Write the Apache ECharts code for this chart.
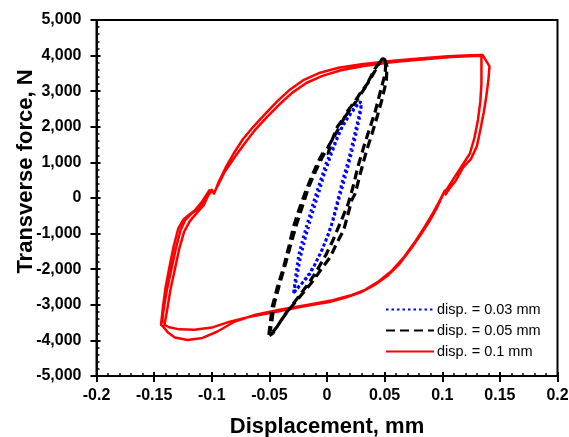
<!DOCTYPE html>
<html>
<head>
<meta charset="utf-8">
<script src="https://cdn.jsdelivr.net/npm/echarts@6/dist/echarts.min.js"></script>
<style>html,body{margin:0;padding:0;background:#fff}#c{width:569px;height:437px}</style>
</head>
<body>
<div id="c"></div>
<script>
const seriesNames = ['disp. = 0.03 mm', 'disp. = 0.05 mm', 'disp. = 0.1 mm'];
const xTickLabels = ['-0.2','-0.15','-0.1','-0.05','0','0.05','0.1','0.15','0.2'];
const yTickLabels = ['-5,000','-4,000','-3,000','-2,000','-1,000','0','1,000','2,000','3,000','4,000','5,000'];

const blueCycle1 = [[-0.029,-2680],[-0.026,-2200],[-0.023,-1650],[-0.019,-1150],[-0.0145,-620],[-0.0105,-200],[-0.0073,130],[-0.003,600],[0.0029,1160],[0.008,1600],[0.013,2000],[0.019,2300],[0.025,2550],[0.029,2710],[0.0295,2600],[0.0275,2280],[0.023,1650],[0.0187,1070],[0.014,550],[0.0101,40],[0.0043,-710],[0.000,-1100],[-0.0043,-1460],[-0.0095,-1800],[-0.0145,-2115],[-0.0195,-2320],[-0.0246,-2490],[-0.029,-2680]];
const blueCycle2 = [[-0.029,-2680],[-0.027,-2150],[-0.0245,-1600],[-0.0205,-1100],[-0.016,-600],[-0.0115,-100],[-0.006,450],[-0.001,950],[0.005,1400],[0.010,1800],[0.016,2150],[0.022,2450],[0.028,2700],[0.030,2650],[0.0285,2300],[0.0245,1700],[0.020,1100],[0.0155,550],[0.011,50],[0.006,-550],[0.001,-1050],[-0.005,-1500],[-0.011,-1900],[-0.017,-2200],[-0.023,-2450],[-0.0285,-2650]];

const blackCycle1 = [[-0.0505,-3850],[-0.049,-3450],[-0.0475,-3050],[-0.043,-2500],[-0.0375,-1930],[-0.033,-1350],[-0.029,-800],[-0.024,-300],[-0.0195,100],[-0.014,550],[-0.008,1000],[-0.003,1300],[0.001,1250],[0.004,1600],[0.009,2000],[0.016,2300],[0.026,2750],[0.034,3150],[0.041,3600],[0.047,3880],[0.050,3900],[0.052,3700],[0.0515,3300],[0.048,2800],[0.0435,2280],[0.039,1800],[0.0345,1350],[0.029,700],[0.0245,130],[0.0215,-60],[0.0145,-900],[0.008,-1300],[0.003,-1650],[-0.005,-2000],[-0.0115,-2300],[-0.019,-2600],[-0.026,-2865],[-0.032,-3100],[-0.0375,-3330],[-0.043,-3600],[-0.047,-3760],[-0.050,-3850]];
const blackCycle2 = [[-0.0505,-3850],[-0.048,-3500],[-0.046,-3000],[-0.041,-2400],[-0.036,-1850],[-0.031,-1250],[-0.026,-700],[-0.021,-200],[-0.016,300],[-0.010,750],[-0.004,1150],[0.003,1550],[0.011,2000],[0.018,2450],[0.024,2700],[0.029,2950],[0.036,3250],[0.043,3650],[0.048,3920],[0.051,3850],[0.0505,3500],[0.046,2950],[0.042,2450],[0.037,1950],[0.032,1450],[0.027,900],[0.0225,300],[0.018,-200],[0.0115,-700],[0.005,-1200],[-0.001,-1600],[-0.009,-2050],[-0.016,-2400],[-0.023,-2700],[-0.030,-3000],[-0.036,-3250],[-0.042,-3550],[-0.047,-3800],[-0.050,-3870]];

const redCycle1 = [[-0.143,-3520],[-0.142,-3200],[-0.139,-2600],[-0.135,-2000],[-0.131,-1400],[-0.127,-900],[-0.123,-620],[-0.118,-450],[-0.112,-300],[-0.106,-60],[-0.102,180],[-0.100,230],[-0.098,120],[-0.094,450],[-0.088,850],[-0.081,1250],[-0.073,1650],[-0.064,2000],[-0.054,2350],[-0.043,2720],[-0.032,3050],[-0.020,3320],[-0.006,3520],[0.010,3660],[0.030,3760],[0.055,3850],[0.080,3920],[0.105,3980],[0.125,4010],[0.135,4020],[0.141,3700],[0.140,3300],[0.138,2800],[0.136,2400],[0.133,1900],[0.130,1450],[0.125,1100],[0.118,850],[0.112,500],[0.106,250],[0.103,100],[0.102,200],[0.099,-20],[0.095,-300],[0.089,-650],[0.082,-1000],[0.073,-1420],[0.063,-1850],[0.052,-2200],[0.041,-2450],[0.030,-2640],[0.017,-2790],[0.002,-2920],[-0.020,-3040],[-0.045,-3200],[-0.066,-3330],[-0.085,-3480],[-0.100,-3640],[-0.115,-3700],[-0.128,-3690],[-0.137,-3630],[-0.141,-3560]];
const redCycle2 = [[-0.140,-3600],[-0.139,-3200],[-0.136,-2600],[-0.132,-2000],[-0.128,-1400],[-0.124,-950],[-0.119,-650],[-0.113,-420],[-0.107,-200],[-0.103,80],[-0.100,200],[-0.098,150],[-0.095,330],[-0.089,720],[-0.080,1150],[-0.071,1550],[-0.062,1930],[-0.052,2280],[-0.041,2640],[-0.030,2960],[-0.018,3230],[-0.004,3430],[0.012,3590],[0.032,3710],[0.056,3810],[0.082,3890],[0.108,3960],[0.128,3990],[0.134,3990],[0.134,3700],[0.134,3200],[0.133,2700],[0.131,2200],[0.128,1700],[0.124,1250],[0.117,900],[0.110,550],[0.104,250],[0.101,130],[0.097,-120],[0.092,-420],[0.085,-800],[0.077,-1200],[0.067,-1650],[0.056,-2050],[0.045,-2340],[0.033,-2580],[0.020,-2740],[0.005,-2870],[-0.015,-2990],[-0.040,-3130],[-0.062,-3280],[-0.080,-3470],[-0.095,-3750],[-0.108,-3930],[-0.121,-3990],[-0.132,-3920],[-0.138,-3780],[-0.142,-3620],[-0.144,-3560]];
const redCycle3 = [[-0.144,-3560],[-0.1425,-3100],[-0.140,-2500],[-0.1365,-1900],[-0.133,-1350],[-0.129,-850],[-0.1245,-600],[-0.120,-480],[-0.115,-360],[-0.109,-130],[-0.104,120],[-0.1015,240]];

const FONT = '"Liberation Sans", Arial, sans-serif';

const chart = echarts.init(document.getElementById('c'), null, {renderer: 'canvas'});

const baseX = {type: 'value', min: -0.2, max: 0.2, interval: 0.05, position: 'bottom', splitLine: {show: false}};
const baseY = {type: 'value', min: -5000, max: 5000, interval: 1000, position: 'left', splitLine: {show: false}};

chart.setOption({
  animation: false,
  backgroundColor: '#fff',
  grid: {left: 96.5, right: 11.5, top: 20, bottom: 61, outerBoundsMode: 'none', containLabel: false,
         show: true, borderColor: '#000', borderWidth: 2, backgroundColor: 'transparent'},
  legend: {
    data: seriesNames,
    orient: 'vertical',
    left: 385, top: 302,
    itemWidth: 48, itemHeight: 14, itemGap: 6,
    itemStyle: {opacity: 0},
    textStyle: {fontFamily: FONT, fontSize: 14.5, color: '#000', padding: [0,0,0,-2]},
    padding: 0
  },
  xAxis: [
    Object.assign({}, baseX, {
      name: 'Displacement, mm', nameLocation: 'middle', nameGap: 40, nameMoveOverlap: false,
      nameTextStyle: {fontFamily: FONT, fontWeight: 'bold', fontSize: 22, color: '#000'},
      axisLine: {show: true, onZero: false, lineStyle: {color: '#000', width: 2}},
      axisTick: {show: true, inside: false, length: 6, lineStyle: {color: '#000', width: 2}},
      axisLabel: {margin: 12, fontFamily: FONT, fontWeight: 'bold', fontSize: 16, color: '#000',
        formatter: (v, i) => xTickLabels[i]}
    }),
    Object.assign({}, baseX, {
      axisLine: {show: false, onZero: false},
      axisLabel: {show: false},
      axisTick: {show: true, inside: true, length: 4, lineStyle: {color: '#000', width: 2}},
      minorTick: {show: true, splitNumber: 5, length: 3, lineStyle: {color: '#000', width: 1.5}}
    })
  ],
  yAxis: [
    Object.assign({}, baseY, {
      name: 'Transverse force, N', nameLocation: 'middle', nameGap: 60, nameMoveOverlap: false,
      nameTextStyle: {fontFamily: FONT, fontWeight: 'bold', fontSize: 22, color: '#000', padding: [0, 0, 0, 53]},
      axisLine: {show: true, onZero: false, lineStyle: {color: '#000', width: 2}},
      axisTick: {show: true, inside: false, length: 6, lineStyle: {color: '#000', width: 2}},
      axisLabel: {margin: 15, fontFamily: FONT, fontWeight: 'bold', fontSize: 16, color: '#000',
        formatter: (v, i) => yTickLabels[i]}
    }),
    Object.assign({}, baseY, {
      axisLine: {show: false, onZero: false},
      axisLabel: {show: false},
      axisTick: {show: true, inside: true, length: 4, lineStyle: {color: '#000', width: 2}},
      minorTick: {show: true, splitNumber: 5, length: 3, lineStyle: {color: '#000', width: 1.5}}
    })
  ],
  series: [
    {name: seriesNames[0], type: 'line', symbol: 'none', showSymbol: false, z: 4,
     data: blueCycle1.concat(blueCycle2),
     lineStyle: {color: '#0000ff', width: 3, type: [2.5, 3], cap: 'butt'}, itemStyle: {color: '#0000ff'}},
    {name: seriesNames[1], type: 'line', symbol: 'none', showSymbol: false, z: 3,
     data: blackCycle1.concat(blackCycle2),
     lineStyle: {color: '#000000', width: 3.2, type: [9, 5]}, itemStyle: {color: '#000000'}},
    {name: seriesNames[2], type: 'line', symbol: 'none', showSymbol: false, z: 2,
     data: redCycle1.concat(redCycle2, redCycle3),
     lineStyle: {color: '#ff0000', width: 2.5, join: 'round'}, itemStyle: {color: '#ff0000'}}
  ]
});
</script>
</body>
</html>
